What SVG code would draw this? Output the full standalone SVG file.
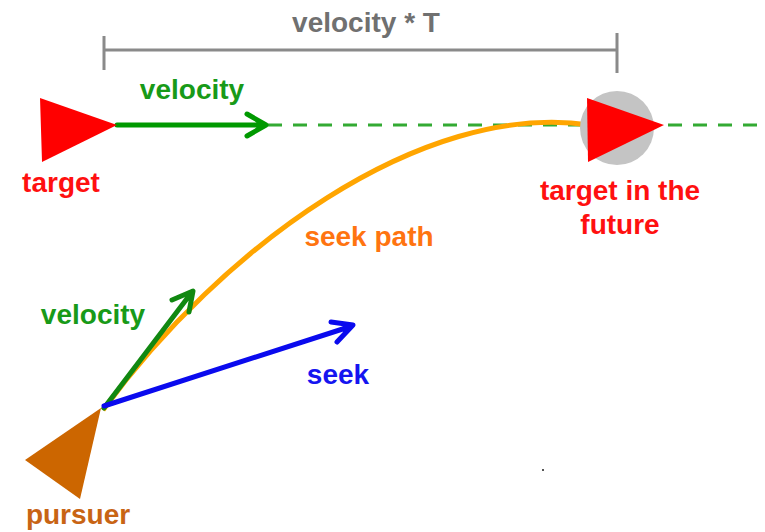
<svg xmlns="http://www.w3.org/2000/svg" width="765" height="532" viewBox="0 0 765 532">
<style>
text{font-family:"Liberation Sans",Arial,sans-serif;font-size:28px;font-weight:bold;text-anchor:middle}
.red{fill:#ff1010}
.grn{fill:#189a18}
.gray{fill:#707070}
.org{fill:#ff7410}
.blu{fill:#1515f0}
.brn{fill:#c86414}
.arrow{fill:none;stroke-width:5;stroke-linecap:round;stroke-linejoin:round}
</style>
<rect width="765" height="532" fill="#ffffff"/>
<g id="dimension">
<path d="M104,50H617M104,36V70M617,33V73" stroke="#8a8a8a" stroke-width="3" fill="none"/>
<text x="366" y="32" class="gray">velocity * T</text>
</g>
<g id="connectors">
<path d="M268,125H765" stroke="#33aa33" stroke-width="3" stroke-dasharray="14,11" fill="none"/>
<path d="M103,410C220,250 420,100 590,125" stroke="#ffa500" stroke-width="5" fill="none"/>
<path class="arrow" d="M117,125H265M247,114L266,125L247,136" stroke="#009900"/>
<path class="arrow" d="M104,408L192,292M172,300L193,291L189,312" stroke="#118811"/>
<path class="arrow" d="M104,406L352,326M331,322L353,325L337,342" stroke="#0a0aee"/>
</g>
<g id="target">
<polygon points="40,98 117,125 42,162" fill="#ff0000"/>
<text x="61" y="192" class="red">target</text>
</g>
<g id="future-target">
<circle cx="617" cy="128" r="37" fill="#c4c4c4"/>
<polygon points="587,98 664,125 588,162" fill="#ff0000"/>
<text x="620" y="200" class="red">target in the</text>
<text x="620" y="234" class="red">future</text>
</g>
<g id="pursuer">
<polygon points="101,408 25,460 80,499" fill="#cc6600"/>
<text x="78" y="524" class="brn">pursuer</text>
</g>
<text x="192" y="99" class="grn">velocity</text>
<text x="369" y="246" class="org">seek path</text>
<text x="93" y="324" class="grn">velocity</text>
<text x="338" y="384" class="blu">seek</text>
<rect x="542" y="469" width="2" height="2" fill="#555"/>
</svg>
